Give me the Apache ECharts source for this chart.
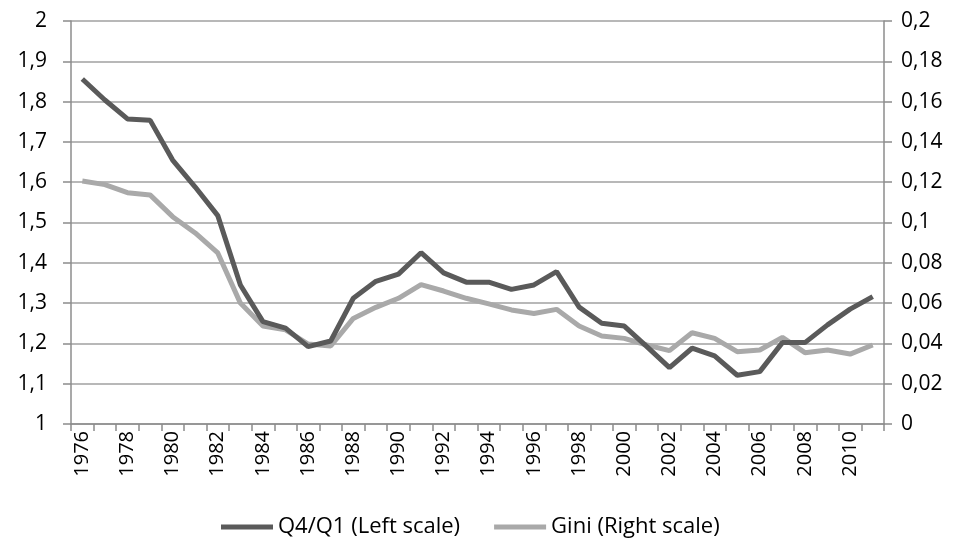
<!DOCTYPE html>
<html>
<head>
<meta charset="utf-8">
<script src="https://cdn.jsdelivr.net/npm/echarts@6/dist/echarts.min.js"></script>
<style>html,body{margin:0;padding:0;background:#fff}#c{width:960px;height:549px}</style>
</head>
<body>
<div id="c"></div>
<script>
const years = [];
for (let y = 1976; y <= 2011; y++) years.push(String(y));
const q4q1 = [1.856,1.804,1.757,1.754,1.655,1.588,1.517,1.345,1.254,1.238,1.192,1.206,1.312,1.354,1.372,1.425,1.375,1.352,1.352,1.334,1.345,1.378,1.290,1.250,1.243,1.192,1.140,1.188,1.169,1.121,1.130,1.202,1.202,1.246,1.285,1.316];
const gini = [0.1206,0.1188,0.1148,0.1137,0.1029,0.0948,0.0849,0.0600,0.0486,0.0467,0.0397,0.0387,0.0524,0.0579,0.0624,0.0692,0.0660,0.0624,0.0596,0.0566,0.0548,0.0569,0.0486,0.0437,0.0425,0.0392,0.0364,0.0453,0.0425,0.0359,0.0367,0.0430,0.0354,0.0367,0.0347,0.0392];
const seriesNames = ['Q4/Q1 (Left scale)', 'Gini (Right scale)'];

const fmt = v => String(+v.toFixed(2)).replace('.', ',');
const chart = echarts.init(document.getElementById('c'), null, {renderer: 'canvas'});
const axisCol = '#8c8c8c';
const font = 'Open Sans';
chart.setOption({
  animation: false,
  grid: {left: 71, right: 76, top: 21, bottom: 125, containLabel: false},
  legend: {
    top: 511, left: 216,
    itemWidth: 52, itemHeight: 5, itemGap: 34,
    icon: 'rect',
    textStyle: {fontFamily: font, fontSize: 22, color: '#000'},
    data: seriesNames
  },
  xAxis: {
    type: 'category', data: years, boundaryGap: true,
    axisLine: {lineStyle: {color: axisCol, width: 1.5}},
    axisTick: {show: true, interval: 0, length: 7, lineStyle: {color: axisCol, width: 1.5}},
    axisLabel: {interval: 1, rotate: 90, hideOverlap: false, fontFamily: font, fontSize: 20, color: '#000', margin: 7,
      overflow: 'none'}
  },
  yAxis: [{
    type: 'value', min: 1, max: 2, interval: 0.1, position: 'left',
    axisLine: {show: true, lineStyle: {color: axisCol, width: 1.5}},
    axisTick: {show: true, length: 8, lineStyle: {color: axisCol, width: 1.5}},
    splitLine: {lineStyle: {color: '#a0a0a0', width: 1.5}},
    axisLabel: {formatter: fmt, fontFamily: font, fontSize: 21, color: '#000', margin: 24}
  }, {
    type: 'value', min: 0, max: 0.2, interval: 0.02, position: 'right',
    axisLine: {show: true, lineStyle: {color: axisCol, width: 1.5}},
    axisTick: {show: true, length: 8, lineStyle: {color: axisCol, width: 1.5}},
    splitLine: {show: false},
    axisLabel: {formatter: fmt, fontFamily: font, fontSize: 21, color: '#000', margin: 17}
  }],
  series: [{
    name: seriesNames[0], type: 'line', yAxisIndex: 0, data: q4q1,
    showSymbol: false, symbol: 'none',
    lineStyle: {color: '#5a5a5a', width: 5},
    itemStyle: {color: '#5a5a5a'}, z: 3
  }, {
    name: seriesNames[1], type: 'line', yAxisIndex: 1, data: gini,
    showSymbol: false, symbol: 'none',
    lineStyle: {color: '#a9a9a9', width: 5},
    itemStyle: {color: '#a9a9a9'}, z: 2
  }]
});
</script>
</body>
</html>
